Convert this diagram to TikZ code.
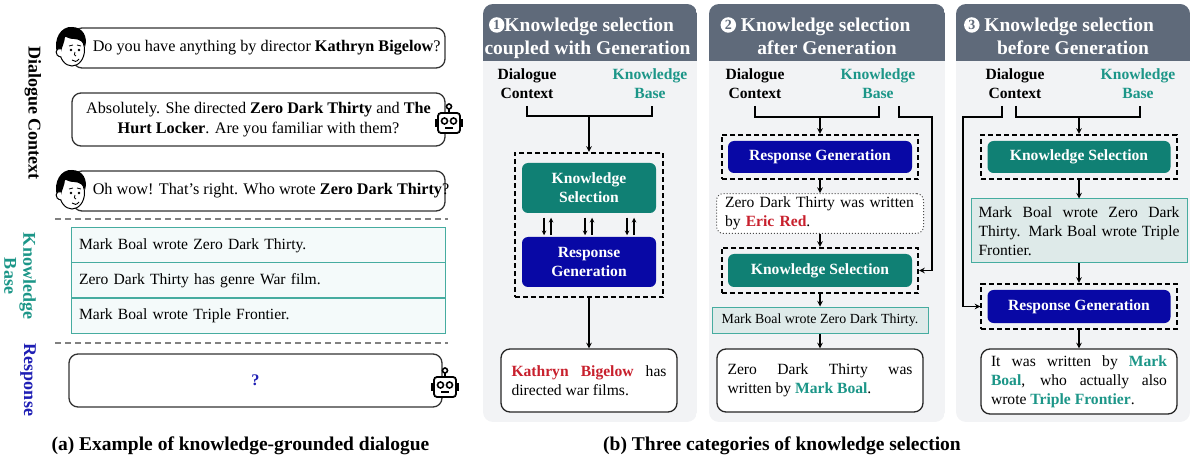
\documentclass[tikz,border=0pt]{standalone}
\usepackage{fontspec}
\setmainfont{Liberation Serif}
\usetikzlibrary{positioning, arrows, fit}

\definecolor{hdrgray}{RGB}{95,106,122}
\definecolor{panelbg}{RGB}{242,243,245}
\definecolor{ksteal}{RGB}{16,128,116}
\definecolor{rgnavy}{RGB}{8,8,165}
\definecolor{kbteal}{RGB}{28,150,136}
\definecolor{kbline}{RGB}{70,172,160}
\definecolor{kbfill}{RGB}{244,250,250}
\definecolor{selfill}{RGB}{222,234,233}
\definecolor{wrongred}{RGB}{200,32,45}
\definecolor{respblue}{RGB}{30,30,180}

\newcommand{\txtfont}{\fontsize{16.2}{20}\selectfont}
\newcommand{\boxfont}{\fontsize{15.6}{19}\selectfont}
\newcommand{\selfont}{\fontsize{13.9}{17}\selectfont}
\newcommand{\sidefont}{\fontsize{18}{19}\selectfont}
\newcommand{\hdrfont}{\fontsize{19.5}{23}\selectfont}
\newcommand{\stepno}[1]{\tikz[baseline=-6.5pt]\node[circle,fill=white,inner sep=0pt,minimum size=15.5pt,text=hdrgray,font=\fontsize{14}{14}\selectfont\bfseries]{#1};}
\tolerance=10000
\hbadness=10000

\begin{document}
\begin{tikzpicture}[x=1pt,y=-1pt,>=stealth,line width=1.5pt]
\tikzstyle{txt}=[font=\txtfont,inner sep=0pt]
\tikzstyle{bubble}=[draw=black!80,line width=1.3pt,rounded corners=9pt,fill=white,minimum width=372pt]
\tikzstyle{kbrow}=[draw=kbline,fill=kbfill,line width=1pt,minimum width=374pt,minimum height=35pt,text width=358pt,inner xsep=8pt,align=left,font=\boxfont]
\tikzstyle{side}=[font=\sidefont\bfseries,rotate=-90]
\tikzstyle{sep}=[draw=black!50,line width=1.3pt,dash pattern=on 6pt off 4pt]
\tikzstyle{hdr}=[font=\hdrfont\bfseries,text=white,inner sep=0pt]
\tikzstyle{lbl}=[font=\boxfont\bfseries,align=center,inner sep=0pt]
\tikzstyle{ksbox}=[fill=ksteal,rounded corners=6pt,text=white,font=\boxfont\bfseries,align=center]
\tikzstyle{rgbox}=[ksbox,fill=rgnavy]
\tikzstyle{grp}=[draw,line width=1.8pt,dash pattern=on 5pt off 3pt,inner sep=5.5pt]
\tikzstyle{genbox}=[draw=black!70,dotted,line width=1pt,fill=white,rounded corners=7pt,font=\boxfont,align=left]
\tikzstyle{selbox}=[draw=kbline,fill=selfill,line width=1pt,font=\boxfont]
\tikzstyle{outbox}=[draw=black!85,line width=1.3pt,fill=white,rounded corners=9pt,font=\boxfont,align=justify]
\tikzset{
  humanface/.pic={
    \draw[fill=white,line width=1pt] (1,3) ellipse [x radius=12.5pt, y radius=16pt];
    \fill (-14,6) .. controls (-18,-8) and (-10,-21) .. (1,-20)
      .. controls (12,-20) and (17,-10) .. (14,0)
      .. controls (13,-5) and (8,-8) .. (3,-8)
      .. controls (0,-8) and (-4,-9) .. (-6,-11)
      .. controls (-6,-5) and (-9,-1) .. (-10,5) -- cycle;
    \draw[fill=white,line width=1pt] (-10,2) .. controls (-16,0) and (-17,9) .. (-10,10);
    \fill (0,3) circle (1.3pt) (8,3) circle (1.3pt);
    \draw[line width=0.8pt] (-2,-1) -- (2,-2) (6,-2) -- (10,-1);
    \draw[line width=0.8pt] (4,5) .. controls (3,8) .. (5,9);
    \draw[line width=0.9pt] (1,13) .. controls (3,15) and (6,15) .. (8,12);
  },
  robothead/.pic={
    \draw[line width=1.8pt,fill=white,rounded corners=3pt] (-11,-10) rectangle (11,10);
    \fill (-14,-4) rectangle (-11,4);
    \fill (11,-4) rectangle (14,4);
    \draw[line width=1.6pt] (0,-10) -- (0,-14);
    \draw[line width=1.6pt,fill=white] (0,-16.5) circle (2.5pt);
    \draw[line width=1.6pt] (-4.5,-2) circle (3pt) (4.5,-2) circle (3pt);
    \draw[line width=1.8pt] (-4,5) -- (4,5);
  }
}
\useasboundingbox (0,0) rectangle (1192,457);

%--- (a) dialogue ---
\node[side] (lab1) at (33,113) {Dialogue Context};
\node[side,text=kbteal,align=center] (lab2) at (20,276) {Knowledge\\Base};
\node[side,text=respblue] (lab3) at (28,380) {Response};

\node[bubble,minimum height=40pt] (d1) at (259,48) {};
\node[bubble,minimum height=53pt,minimum width=373pt,font=\txtfont,align=center] (d2) at (258.5,119.5)
  {Absolutely. She directed \textbf{Zero Dark Thirty} and \textbf{The}\\\textbf{Hurt Locker}. Are you familiar with them?};
\node[bubble,minimum height=40pt] (d3) at (259,191) {};
\node[txt,anchor=west] (d1t) at (92,48) {Do you have anything by director \textbf{Kathryn Bigelow}?};
\node[txt,anchor=west] (d3t) at (92,191) {Oh wow! That's right. Who wrote \textbf{Zero Dark Thirty}?};
\pic at (71,47) {humanface};
\pic at (71,190) {humanface};
\pic at (449,123) {robothead};

\draw[sep] (55,219) -- (448,219);
\node[kbrow] (k1) at (258,245.5) {Mark Boal wrote Zero Dark Thirty.};
\node[kbrow] (k2) at (258,280.5) {Zero Dark Thirty has genre War film.};
\node[kbrow] (k3) at (258,315.5) {Mark Boal wrote Triple Frontier.};
\draw[sep] (55,343) -- (448,343);

\node[bubble,minimum height=53pt,minimum width=373pt,text=respblue,font=\txtfont\bfseries] (r0) at (255.5,380.5) {?};
\pic at (445,387) {robothead};

\node[font=\hdrfont\bfseries] (capa) at (240.5,446) {(a) Example of knowledge-grounded dialogue};

%--- (b) panels ---
\foreach \xa/\xb in {483/697, 709/945, 956/1190} {
  \begin{scope}
    \clip[rounded corners=10pt] (\xa,4) rectangle (\xb,422);
    \fill[panelbg] (\xa,4) rectangle (\xb,422);
    \fill[hdrgray] (\xa,4) rectangle (\xb,61);
  \end{scope}
}
\node[hdr] (h1a) at (581.5,26.5) {\stepno{1}Knowledge selection};
\node[hdr] (h1b) at (587.5,49.5) {coupled with Generation};
\node[hdr] (h2a) at (815.5,26.5) {\stepno{2} Knowledge selection};
\node[hdr] (h2b) at (827,47.5) {after Generation};
\node[hdr] (h3a) at (1059,26.5) {\stepno{3} Knowledge selection};
\node[hdr] (h3b) at (1073,47.5) {before Generation};

%--- panel 1 ---
\node[lbl] (p1dc) at (527,83.5) {Dialogue\\Context};
\node[lbl,text=kbteal] (p1kb) at (650,83.5) {Knowledge\\Base};
\node[ksbox,minimum width=134pt,minimum height=50pt] (p1ks) at (589,188) {Knowledge\\Selection};
\node[rgbox,minimum width=134pt,minimum height=50pt] (p1rg) at (589,262) {Response\\Generation};
\node[grp,fit=(p1ks)(p1rg),inner xsep=6.5pt,inner ysep=9.5pt] (p1g) {};
\node[outbox,text width=155pt,inner xsep=10.5pt,minimum height=63pt] (p1out) at (589,380.5)
  {\textcolor{wrongred}{\textbf{Kathryn Bigelow}} has\linebreak directed war films.};

\coordinate (p1dcb) at (527,106);
\coordinate (p1kbb) at (652,106);
\coordinate (p1j) at (589,116);
\draw (p1dcb) |- (p1j) -| (p1kbb);
\draw[->] (p1j) -- (p1g.north);
\foreach \xl/\xr in {-45/-38, -4/3, 38/45} {
  \draw[->,line width=1.1pt] ([xshift=\xl,yshift=-4]p1ks.south) -- ([xshift=\xl,yshift=1]p1rg.north);
  \draw[->,line width=1.1pt] ([xshift=\xr,yshift=1]p1rg.north) -- ([xshift=\xr,yshift=-4]p1ks.south);
}
\draw[->] (p1g.south) -- (p1out.north);

%--- panel 2 ---
\node[lbl] (p2dc) at (755,83.5) {Dialogue\\Context};
\node[lbl,text=kbteal] (p2kb) at (878,83.5) {Knowledge\\Base};
\node[rgbox,minimum width=184pt,minimum height=32pt] (p2rg) at (820,157) {Response Generation};
\node[grp,fit=(p2rg)] (p2g1) {};
\node[genbox,text width=190pt,inner xsep=8.5pt,minimum height=39pt] (p2gen) at (820,213.5)
  {Zero Dark Thirty was written\\by \textcolor{wrongred}{\textbf{Eric Red}}.};
\node[ksbox,minimum width=184pt,minimum height=33pt] (p2ks) at (820,270.5) {Knowledge Selection};
\node[grp,fit=(p2ks)] (p2g2) {};
\node[selbox,minimum width=216pt,minimum height=26pt,font=\selfont] (p2sel) at (820,320) {Mark Boal wrote Zero Dark Thirty.};
\node[outbox,text width=185pt,inner xsep=10.5pt,minimum height=63pt] (p2out) at (820,380.5)
  {Zero Dark Thirty was\linebreak written by \textcolor{kbteal}{\textbf{Mark Boal}}.};

\coordinate (p2dcb) at (755,106);
\coordinate (p2kbb) at (879,106);
\coordinate (p2j) at (820,117);
\coordinate (p2kbr) at (899,106);
\coordinate (p2bend) at (932,117);
\draw (p2dcb) |- (p2j) -| (p2kbb);
\draw[->] (p2j) -- (p2g1.north);
\draw[->] (p2kbr) |- (p2bend) |- (p2g2.east);
\draw[->] (p2g1.south) -- (p2gen.north);
\draw[->] (p2gen.south) -- (p2g2.north);
\draw[->] (p2g2.south) -- (p2sel.north);
\draw[->] (p2sel.south) -- (p2out.north);

%--- panel 3 ---
\node[lbl] (p3dc) at (1015,83.5) {Dialogue\\Context};
\node[lbl,text=kbteal] (p3kb) at (1138,83.5) {Knowledge\\Base};
\node[ksbox,minimum width=183pt,minimum height=32pt] (p3ks) at (1079,157) {Knowledge Selection};
\node[grp,fit=(p3ks)] (p3g1) {};
\node[selbox,text width=201pt,inner xsep=7.5pt,minimum height=64pt,align=justify] (p3sel) at (1079,231)
  {Mark Boal wrote Zero Dark\linebreak Thirty. Mark Boal wrote Triple\linebreak Frontier.};
\node[rgbox,minimum width=183pt,minimum height=33pt] (p3rg) at (1079,306.5) {Response Generation};
\node[grp,fit=(p3rg)] (p3g2) {};
\node[outbox,text width=176pt,inner xsep=10pt,minimum height=65pt] (p3out) at (1079,381.5)
  {It was written by \textcolor{kbteal}{\textbf{Mark}}\linebreak \textcolor{kbteal}{\textbf{Boal}}, who actually also\linebreak wrote \textcolor{kbteal}{\textbf{Triple Frontier}}.};

\coordinate (p3dcl) at (1002,106);
\coordinate (p3bend) at (963,117);
\coordinate (p3dcb) at (1016,106);
\coordinate (p3kbb) at (1140,106);
\coordinate (p3j) at (1079,117);
\draw[->] (p3dcl) |- (p3bend) |- (p3g2.west);
\draw (p3dcb) |- (p3j) -| (p3kbb);
\draw[->] (p3j) -- (p3g1.north);
\draw[->] (p3g1.south) -- (p3sel.north);
\draw[->] (p3sel.south) -- (p3g2.north);
\draw[->] (p3g2.south) -- (p3out.north);

\node[font=\hdrfont\bfseries] (capb) at (782,446) {(b) Three categories of knowledge selection};

\end{tikzpicture}
\end{document}
